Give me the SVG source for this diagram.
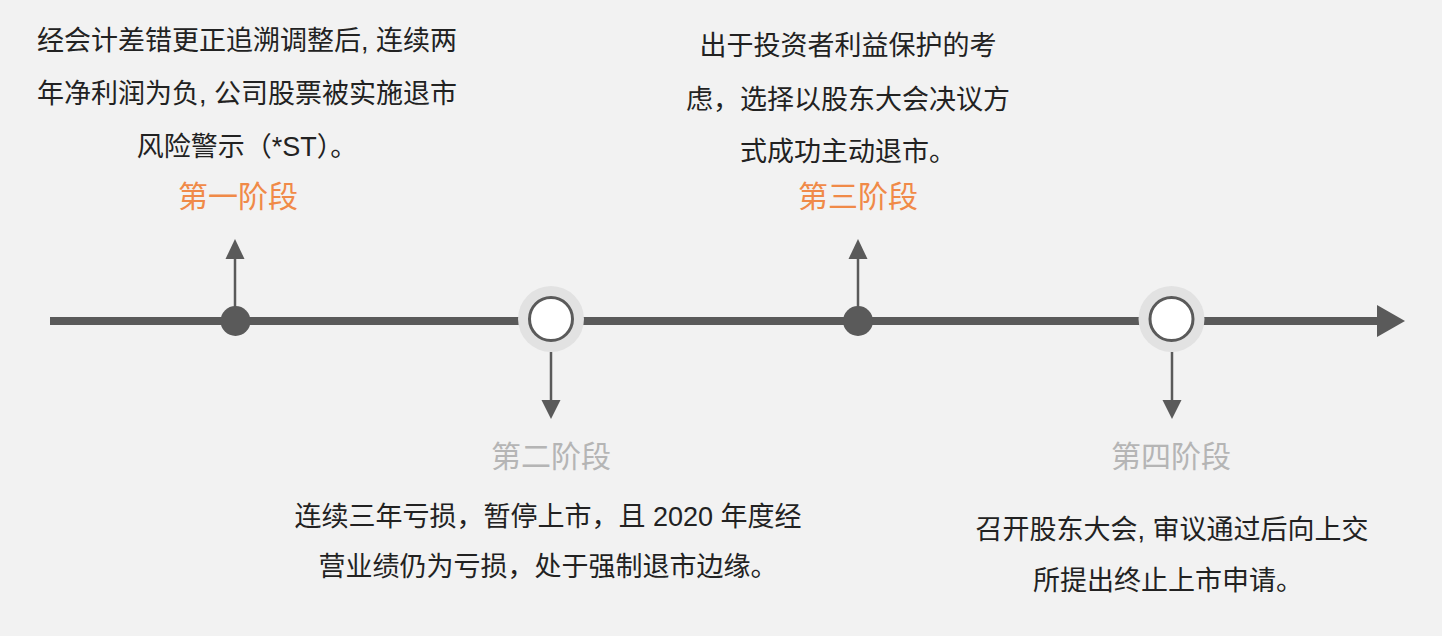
<svg xmlns="http://www.w3.org/2000/svg" width="1442" height="636" viewBox="0 0 1442 636">
<style>
.t{font-family:"Liberation Sans","Noto Sans CJK SC",sans-serif;font-size:27px;fill:#222;text-anchor:middle}
.h{font-family:"Noto Sans CJK SC",sans-serif;font-size:30px;text-anchor:middle}
.o{fill:#f08a48}
.g{fill:#b5b5b5}
.ax{stroke:#5a5a5a;stroke-width:8;fill:none}
.ar{stroke:#5a5a5a;stroke-width:2.5;fill:none}
.hd{fill:#5a5a5a}
.dot{fill:#5a5a5a}
.ring{fill:#e2e2e2}
.in{fill:#fff;stroke:#5a5a5a;stroke-width:3}
</style>
<rect width="1442" height="636" fill="#f2f2f2"/>
<g id="connectors">
<line class="ax" x1="50" y1="321" x2="1380" y2="321"/>
<polygon class="hd" points="1377,305 1405,321 1377,337"/>
<line class="ar" x1="235" y1="321" x2="235" y2="258"/>
<polygon class="hd" points="225.5,259 235,239 244.5,259"/>
<line class="ar" x1="858" y1="321" x2="858" y2="258"/>
<polygon class="hd" points="848.5,259 858,239 867.5,259"/>
<line class="ar" x1="551" y1="352" x2="551" y2="401"/>
<polygon class="hd" points="541.5,400 551,419 560.5,400"/>
<line class="ar" x1="1172" y1="352" x2="1172" y2="401"/>
<polygon class="hd" points="1162.5,400 1172,419 1181.5,400"/>
</g>
<g id="stage1">
<circle class="dot" cx="235.5" cy="321" r="15"/>
<text class="t" x="247" y="50">经会计差错更正追溯调整后, 连续两</text>
<text class="t" x="247" y="103">年净利润为负, 公司股票被实施退市</text>
<text class="t" x="247" y="156">风险警示（*ST）。</text>
<text class="h o" x="238" y="207">第一阶段</text>
</g>
<g id="stage2">
<circle class="ring" cx="551" cy="319" r="33"/>
<circle class="in" cx="551" cy="319" r="21.5"/>
<text class="h g" x="551" y="467">第二阶段</text>
<text class="t" x="548" y="526">连续三年亏损，暂停上市，且 2020 年度经</text>
<text class="t" x="548" y="576">营业绩仍为亏损，处于强制退市边缘。</text>
</g>
<g id="stage3">
<circle class="dot" cx="858" cy="321" r="15"/>
<text class="t" x="848" y="55">出于投资者利益保护的考</text>
<text class="t" x="848" y="109">虑，选择以股东大会决议方</text>
<text class="t" x="848" y="161">式成功主动退市。</text>
<text class="h o" x="858" y="207">第三阶段</text>
</g>
<g id="stage4">
<circle class="ring" cx="1171.5" cy="319" r="33"/>
<circle class="in" cx="1171.5" cy="319" r="21.5"/>
<text class="h g" x="1171" y="467">第四阶段</text>
<text class="t" x="1172" y="539">召开股东大会, 审议通过后向上交</text>
<text class="t" x="1168" y="590">所提出终止上市申请。</text>
</g>
</svg>
